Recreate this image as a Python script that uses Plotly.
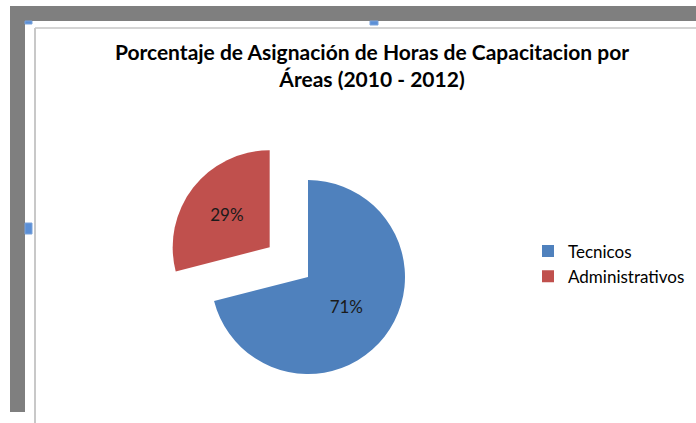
import plotly.graph_objects as go

labels = ["Tecnicos", "Administrativos"]
values = [71, 29]
colors = ["#4f81bd", "#c0504d"]
pulls = [0, 0.5]
title_text = "Porcentaje de Asignación de Horas de Capacitacion por<br>Áreas (2010 - 2012)"

W, H = 696, 423

def px(x):
    return x / W

def py(y):
    return 1 - y / H

fig = go.Figure(go.Pie(
    labels=labels,
    values=values,
    marker=dict(colors=colors, line=dict(width=0)),
    pull=pulls,
    sort=False,
    direction="clockwise",
    rotation=0,
    textinfo="percent",
    texttemplate="%{percent:.0%}",
    textposition="inside",
    insidetextorientation="horizontal",
    textfont=dict(family="Lato", size=17, color="#1a1a1a"),
    domain=dict(x=[px(162.5), px(453.5)], y=[py(422.5), py(131.5)]),
    hoverinfo="skip",
))

shapes = []
# window chrome: gray bands
shapes.append(dict(type="rect", xref="paper", yref="paper", x0=px(10), x1=px(696), y0=py(21), y1=py(6),
                   fillcolor="#7f7f7f", line=dict(width=0), layer="below"))
shapes.append(dict(type="rect", xref="paper", yref="paper", x0=px(10), x1=px(25), y0=py(412), y1=py(6),
                   fillcolor="#7f7f7f", line=dict(width=0), layer="below"))
# chart area border
shapes.append(dict(type="line", xref="paper", yref="paper", x0=px(35), x1=px(696), y0=py(28), y1=py(28),
                   line=dict(color="#d4d4d4", width=2), layer="below"))
shapes.append(dict(type="line", xref="paper", yref="paper", x0=px(35), x1=px(35), y0=py(423), y1=py(28),
                   line=dict(color="#c8c8c8", width=2), layer="below"))
# selection handles
for (x0, x1, y0, y1) in [(25, 32, 21, 24), (370, 378, 21, 25), (25, 32, 223, 234)]:
    shapes.append(dict(type="rect", xref="paper", yref="paper", x0=px(x0), x1=px(x1), y0=py(y1), y1=py(y0),
                       fillcolor="#5b8fd6", line=dict(color="#7aa3dc", width=1), layer="above"))

fig.update_layout(
    width=W, height=H,
    margin=dict(l=0, r=0, t=0, b=0),
    paper_bgcolor="white",
    plot_bgcolor="white",
    title=dict(text=title_text, x=px(372), xanchor="center", y=py(60), yanchor="top",
               font=dict(family="Lato", size=21, color="#000000", weight="bold")),
    legend=dict(x=px(528), xanchor="left", y=py(264), yanchor="middle",
                font=dict(family="Lato", size=17, color="#000000"),
                bgcolor="rgba(0,0,0,0)"),
    shapes=shapes,
)

fig.write_html("out.html")
